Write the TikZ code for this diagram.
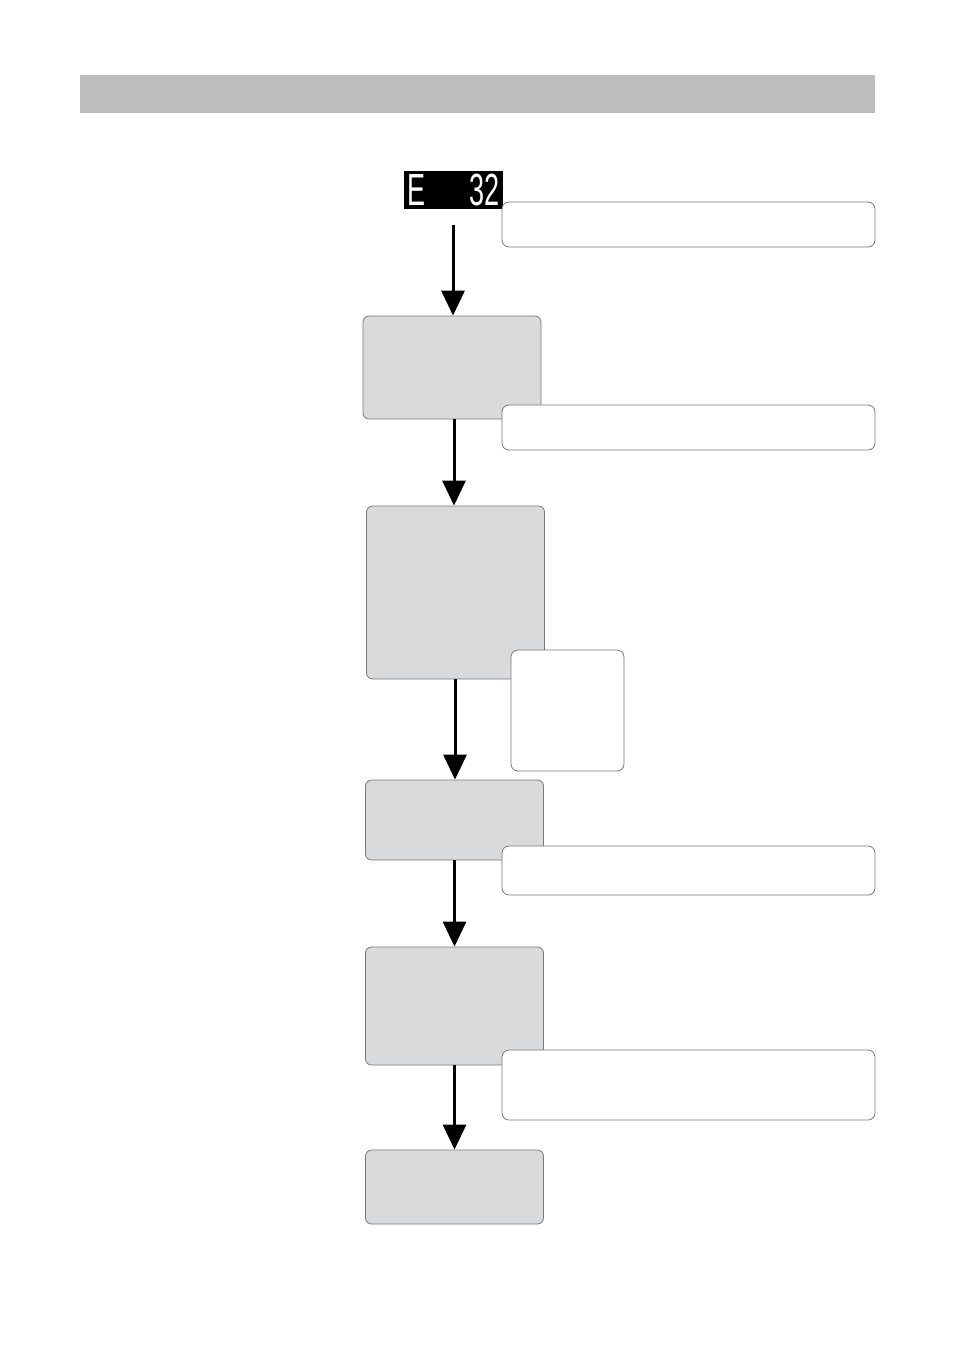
\documentclass[tikz,border=0pt]{standalone}
\usepackage{fontspec}
\setmainfont{Liberation Sans}
\usetikzlibrary{arrows.meta, positioning, calc}
\definecolor{bargray}{RGB}{188,189,191}
\definecolor{boxgray}{RGB}{217,218,220}
\definecolor{edgegray}{RGB}{120,120,122}

\begin{document}
\begin{tikzpicture}[
  x=1pt, y=-1pt,
  stage/.style={draw=edgegray, line width=0.8pt, rounded corners=6pt, fill=boxgray, minimum width=178pt, inner sep=0pt},
  note/.style={draw=edgegray, line width=0.8pt, rounded corners=7pt, fill=white, inner sep=0pt},
  arr/.style={-{Triangle[length=25pt, width=23pt]}, line width=3pt}
]
\useasboundingbox (0,0) rectangle (954,1350);
% header bar
\node[fill=bargray, minimum width=795pt, minimum height=38pt, inner sep=0pt] (bar) at (477.5,94) {};
% error display
\node[fill=black, text=white, minimum width=99pt, minimum height=38pt, inner sep=0pt,
      font=\fontsize{45}{45}\selectfont] (disp) at (453.5,190)
      {\makebox[93pt]{\scalebox{0.6}[1]{E}\hfill\scalebox{0.6}[1]{32}}};
\coordinate (a0) at (453,225);
% steps
\node[stage, minimum height=103pt] (s1) at (452,367.5) {};
\node[stage, minimum height=173pt] (s2) at (455.5,592.5) {};
\node[stage, minimum height=80pt]  (s3) at (454.5,820) {};
\node[stage, minimum height=118pt] (s4) at (454.5,1006) {};
\node[stage, minimum height=74pt]  (s5) at (454.5,1187) {};
% notes
\node[note, minimum width=373pt, minimum height=45pt]  (n1) at (688.5,224.5) {};
\node[note, minimum width=373pt, minimum height=45pt]  (n2) at (688.5,427.5) {};
\node[note, minimum width=113pt, minimum height=121pt] (n3) at (567.5,710.5) {};
\node[note, minimum width=373pt, minimum height=49pt]  (n4) at (688.5,870.5) {};
\node[note, minimum width=373pt, minimum height=70pt]  (n5) at (688.5,1085) {};
% arrows
\draw[arr] (a0) -- (a0 |- s1.north);
\draw[arr] ([xshift=2pt]s1.south) -- ([xshift=2pt]s1.south |- s2.north);
\draw[arr] ([xshift=-0.5pt]s2.south) -- ([xshift=-0.5pt]s2.south |- s3.north);
\draw[arr] (s3.south) -- (s4.north);
\draw[arr] (s4.south) -- (s5.north);
\end{tikzpicture}
\end{document}
